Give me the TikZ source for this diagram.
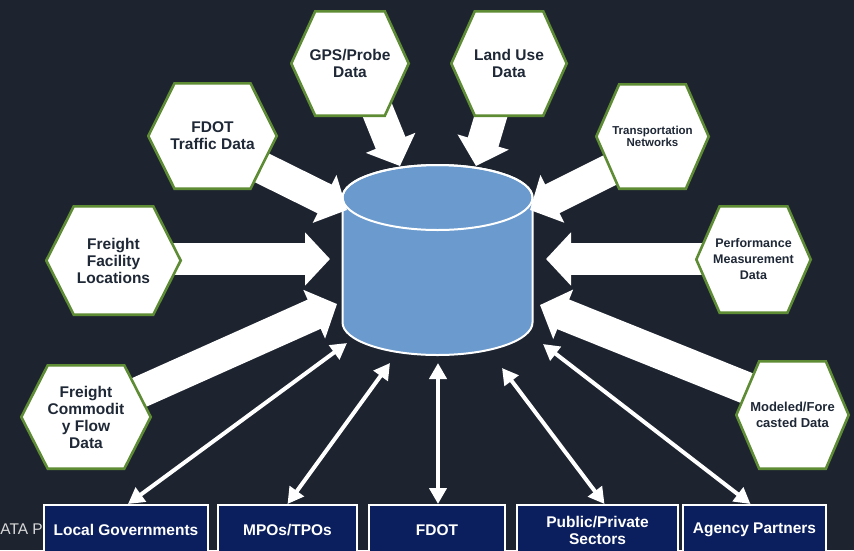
\documentclass[tikz,border=0pt]{standalone}
\usepackage{fontspec}
\setmainfont{Liberation Sans}
\usepackage{xcolor}
\usetikzlibrary{calc,arrows.meta}

\definecolor{bgnavy}{HTML}{1D2430}
\definecolor{dbblue}{HTML}{6A9ACE}
\definecolor{hexgreen}{HTML}{5E8C34}
\definecolor{hexink}{HTML}{1F2836}
\definecolor{boxnavy}{HTML}{0B1F5E}
\definecolor{ghost}{HTML}{D8D8D8}

\pgfdeclarelayer{back}
\pgfdeclarelayer{flow}
\pgfsetlayers{back,flow,main}

\begin{document}
\begin{tikzpicture}[x=1pt, y=-1pt,
  hexbox/.style={inner sep=0pt, align=center, text=hexink,
    font=\bfseries\fontsize{15.5}{17}\selectfont,
    path picture={\filldraw[fill=white, draw=hexgreen, line width=2.6pt]
      ($(path picture bounding box.west)+(1.3,0)$)
      -- ($(path picture bounding box.north west)!.21!(path picture bounding box.north east)+(0,1.3)$)
      -- ($(path picture bounding box.north east)!.21!(path picture bounding box.north west)+(0,1.3)$)
      -- ($(path picture bounding box.east)+(-1.3,0)$)
      -- ($(path picture bounding box.south east)!.21!(path picture bounding box.south west)+(0,-1.3)$)
      -- ($(path picture bounding box.south west)!.21!(path picture bounding box.south east)+(0,-1.3)$)
      -- cycle;}},
  userbox/.style={draw=white, line width=2pt, fill=boxnavy, text=white, anchor=north,
    font=\bfseries\fontsize{15.5}{17}\selectfont, align=center, inner sep=0pt,
    minimum height=50pt},
  fatflow/.style={white, line width=32pt, -{Triangle[length=25pt,width=52pt]}},
  linkflow/.style={white, line width=4pt,
    {Triangle[length=16pt,width=17pt]}-{Triangle[length=16pt,width=17pt]}}]

  \useasboundingbox (0,0) rectangle (854,550);

  % backdrop and the data store
  \begin{pgfonlayer}{back}
    \fill[bgnavy] (0,0) rectangle (854,550);
    \filldraw[fill=dbblue, draw=white, line width=2pt]
      (342.5,197.5) -- (342.5,322.5)
      arc[start angle=180, end angle=0, x radius=95, y radius=32.5]
      -- (532.5,197.5)
      arc[start angle=0, end angle=-180, x radius=95, y radius=32.5] -- cycle;
    \draw[white, line width=2pt] (437.5,197.5) ellipse[x radius=95, y radius=32.5];
  \end{pgfonlayer}

  \coordinate (db-gps) at (400,166);
  \coordinate (db-land) at (476,166);
  \coordinate (db-traffic) at (347,210);
  \coordinate (db-net) at (530,210);
  \coordinate (db-facility) at (330,259);
  \coordinate (db-perf) at (546,259);
  \coordinate (db-flow) at (337,304);
  \coordinate (db-model) at (540,305);
  \coordinate (db-lg) at (347,343);
  \coordinate (db-mpo) at (390,363);
  \coordinate (db-fdot) at (438,363);
  \coordinate (db-pub) at (502,368);
  \coordinate (db-agency) at (543,344);

  % data sources
  \node[hexbox, minimum width=120pt, minimum height=107pt] (gps) at (350,63.5) {GPS/Probe\\Data};
  \node[hexbox, minimum width=118pt, minimum height=107pt] (land) at (509,63.5) {Land Use\\Data};
  \node[hexbox, minimum width=131pt, minimum height=108pt] (traffic) at (212.5,136) {FDOT\\Traffic Data};
  \node[hexbox, minimum width=115pt, minimum height=107pt,
    font=\bfseries\fontsize{11.5}{12.5}\selectfont] (net) at (652.5,136.5) {Transportation\\Networks};
  \node[hexbox, minimum width=137pt, minimum height=111pt] (facility) at (113.5,260.5) {Freight\\Facility\\Locations};
  \node[hexbox, minimum width=117pt, minimum height=109pt,
    font=\bfseries\fontsize{12.5}{16}\selectfont] (perf) at (753.5,259.5) {Performance\\Measurement\\Data};
  \node[hexbox, minimum width=132pt, minimum height=106pt] (flow) at (86,417) {Freight\\Commodit\\y Flow\\Data};
  \node[hexbox, minimum width=115pt, minimum height=110pt,
    font=\bfseries\fontsize{13}{16}\selectfont] (model) at (792.5,415) {Modeled/Fore\\casted Data};

  % users
  \node[userbox, minimum width=164pt] (lg) at (126,504) {Local Governments};
  \node[userbox, minimum width=139pt] (mpo) at (287.5,504) {MPOs/TPOs};
  \node[userbox, minimum width=136pt] (fdot) at (437,504) {FDOT};
  \node[userbox, minimum width=161pt] (pub) at (597.5,504) {Public/Private\\Sectors};
  \node[userbox, minimum width=143pt] (agency) at (754.5,504) {Agency Partners};

  \node[anchor=east, text=ghost, font=\fontsize{15.5}{17}\selectfont, inner sep=0pt]
    (cutoff) at (43,529) {ATA P};

  \begin{pgfonlayer}{flow}
    \draw[fatflow] ([shift={(22,33.5)}]gps.center) -- (db-gps);
    \draw[fatflow] ([shift={(-13,35.5)}]land.center) -- (db-land);
    \draw[fatflow] ([shift={(37.5,26)}]traffic.center) -- (db-traffic);
    \draw[fatflow] ([shift={(-28.5,26.5)}]net.center) -- (db-net);
    \draw[fatflow] ([shift={(46.5,-1.5)}]facility.center) -- (db-facility);
    \draw[fatflow] ([shift={(-43.5,-0.5)}]perf.center) -- (db-perf);
    \draw[fatflow] ([shift={(34,-16)}]flow.center) -- (db-flow);
    \draw[fatflow] ([shift={(-33.5,-22)}]model.center) -- (db-model);

    \draw[linkflow] ([xshift=2pt]lg.north) -- (db-lg);
    \draw[linkflow] (mpo.north) -- (db-mpo);
    \draw[linkflow] ([xshift=1pt]fdot.north) -- (db-fdot);
    \draw[linkflow] ([xshift=7pt]pub.north) -- (db-pub);
    \draw[linkflow] ([xshift=-4pt]agency.north) -- (db-agency);
  \end{pgfonlayer}
\end{tikzpicture}
\end{document}
